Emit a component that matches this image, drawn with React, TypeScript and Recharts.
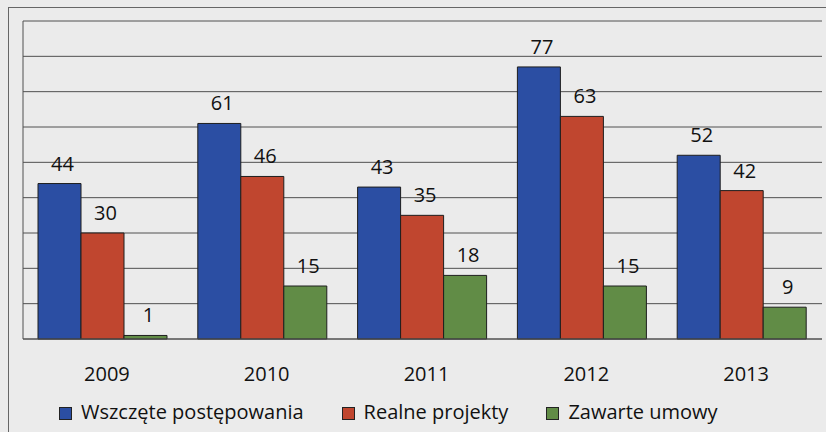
import React from "react"
import { BarChart, Bar, XAxis, YAxis, CartesianGrid, LabelList, Legend } from "recharts"

const years = ["2009", "2010", "2011", "2012", "2013"]
const wszczete = [44, 61, 43, 77, 52]
const realne = [30, 46, 35, 63, 42]
const zawarte = [1, 15, 18, 15, 9]
const yTicks = [0, 10, 20, 30, 40, 50, 60, 70, 80, 90]

const series = [
  { key: "wszczete", name: "Wszczęte postępowania", color: "#2b4ea3" },
  { key: "realne", name: "Realne projekty", color: "#c0462f" },
  { key: "zawarte", name: "Zawarte umowy", color: "#618c46" },
]

const data = years.map((year, i) => ({
  year,
  wszczete: wszczete[i],
  realne: realne[i],
  zawarte: zawarte[i],
}))

const font = "'Open Sans', Lato, sans-serif"
const lineColor = "#505050"

function LegendRow() {
  return (
    <div style={{ display: "flex", alignItems: "center", paddingLeft: 59, fontFamily: font, fontSize: 20, color: "#111", lineHeight: "24px" }}>
      {series.map((s) => (
        <div key={s.key} style={{ display: "flex", alignItems: "center", marginRight: 38 }}>
          <span
            style={{
              display: "inline-block",
              width: 11,
              height: 11,
              background: s.color,
              border: "1px solid #222",
              marginRight: 9,
              marginTop: 2,
            }}
          />
          <span>{s.name}</span>
        </div>
      ))}
    </div>
  )
}

// y axis keeps its line and grid ticks but draws no labels
const NoTick = () => null

export default function App() {
  return (
    <div style={{ position: "absolute", left: 0, top: 0, width: 826, height: 432, background: "#ebebeb", overflow: "hidden" }}>
      <div style={{ position: "absolute", left: 8, top: 7, width: 818, height: 1, background: "#666" }} />
      <div style={{ position: "absolute", left: 8, top: 7, width: 1, height: 425, background: "#666" }} />
      <div style={{ position: "absolute", left: 0, top: 0 }}>
        <BarChart
          width={826}
          height={432}
          data={data}
          margin={{ top: 21, right: 4, left: 22, bottom: 53 }}
          barCategoryGap={15}
          barGap={0}
        >
          <CartesianGrid vertical={false} stroke={lineColor} strokeWidth={1} />
          <XAxis
            dataKey="year"
            height={40}
            axisLine={{ stroke: lineColor }}
            tickLine={false}
            tickMargin={22}
            tick={{ fill: "#111", fontSize: 20, fontFamily: font, dx: 4 }}
          />
          <YAxis
            width={1}
            type="number"
            domain={[0, 90]}
            ticks={yTicks}
            interval={0}
            tick={NoTick}
            tickLine={false}
            axisLine={{ stroke: lineColor }}
          />
          <Legend
            verticalAlign="middle"
            align="center"
            content={() => <LegendRow />}
            wrapperStyle={{ top: 400, left: 0, width: 826 }}
          />
          {series.map((s) => (
            <Bar key={s.key} dataKey={s.key} name={s.name} fill={s.color} stroke="#1e1e1e" strokeWidth={1} isAnimationActive={false}>
              <LabelList dataKey={s.key} position="top" offset={13} fill="#111" fontSize={20} fontFamily={font} dx={3} />
            </Bar>
          ))}
        </BarChart>
      </div>
    </div>
  )
}
